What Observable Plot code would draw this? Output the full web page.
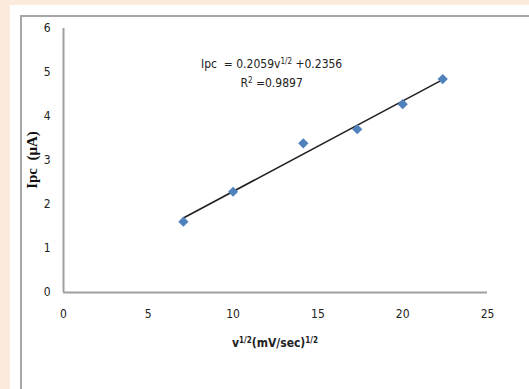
<!DOCTYPE html>
<html>
<head>
<meta charset="utf-8">
<script src="https://cdn.jsdelivr.net/npm/d3@7"></script>
<script src="https://cdn.jsdelivr.net/npm/@observablehq/plot@0.6"></script>
<style>
  html, body { margin: 0; padding: 0; }
  body { width: 529px; height: 389px; background: #fbebdc; position: relative; overflow: hidden; }
  #sheet { position: absolute; left: 10px; top: 5px; width: 600px; height: 500px; background: #ffffff; }
  #frame { position: absolute; left: 20px; top: 15px; width: 600px; height: 500px; background: #ffffff;
           border: 2px solid #a6a6a6; box-sizing: border-box; }
  #chart { position: absolute; left: 0; top: 0; }
  #chart svg { background: transparent; }
</style>
</head>
<body>
<div id="sheet"></div>
<div id="frame"></div>
<div id="chart"></div>
<script>
// Scan rate square root v^1/2 (mV/sec)^1/2
const sqrtScanRate = [7.07, 10.0, 14.14, 17.32, 20.0, 22.36];
// Cathodic peak current Ipc (µA)
const peakCurrent = [1.61, 2.29, 3.39, 3.71, 4.28, 4.85];
const xTicks = [0, 5, 10, 15, 20, 25];
const yTicks = [0, 1, 2, 3, 4, 5, 6];
const equationText = "Ipc  = 0.2059v";
const equationTail = " +0.2356";
const r2Text = " =0.9897";

const data = sqrtScanRate.map((x, i) => ({x, y: peakCurrent[i]}));

const tickFont = "'Liberation Sans Narrow', 'DejaVu Sans Condensed', sans-serif";

const plot = Plot.plot({
  width: 529,
  height: 389,
  marginLeft: 63,
  marginRight: 42,
  marginTop: 28,
  marginBottom: 97,
  style: {background: "transparent", fontFamily: tickFont, fontSize: "12px", color: "#222"},
  x: {domain: [0, 25], ticks: xTicks, tickFormat: d => String(d), tickSize: 0, tickPadding: 17, label: null},
  y: {domain: [0, 6], ticks: yTicks, tickFormat: d => String(d), tickSize: 0, tickPadding: 13, label: null},
  marks: [
    Plot.ruleX([0], {stroke: "#a0a0a0", strokeWidth: 2}),
    Plot.ruleY([0], {stroke: "#a0a0a0", strokeWidth: 2}),
    Plot.linearRegressionY(data, {x: "x", y: "y", ci: 0, stroke: "#222", strokeWidth: 1.6}),
    Plot.dot(data, {x: "x", y: "y", symbol: "diamond2", r: 4.6, fill: "#4f81bd", stroke: "none"})
  ]
});
document.getElementById("chart").appendChild(plot);

const sx = plot.scale("x"), sy = plot.scale("y");
const svg = d3.select(plot);
const annFont = "'Liberation Sans Narrow', 'DejaVu Sans Condensed', sans-serif";

// Equation
const eq = svg.append("text")
  .attr("x", sx.apply(12.3)).attr("y", sy.apply(5.1))
  .attr("text-anchor", "middle")
  .attr("font-family", annFont).attr("font-size", 12).attr("fill", "#222")
  .attr("xml:space", "preserve");
eq.append("tspan").text(equationText);
eq.append("tspan").attr("dy", -4).attr("font-size", 8).text("1/2");
eq.append("tspan").attr("dy", 4).text(equationTail);

const r2 = svg.append("text")
  .attr("x", sx.apply(12.3)).attr("y", sy.apply(4.65))
  .attr("text-anchor", "middle")
  .attr("font-family", annFont).attr("font-size", 12).attr("fill", "#222");
r2.append("tspan").text("R");
r2.append("tspan").attr("dy", -4).attr("font-size", 8).text("2");
r2.append("tspan").attr("dy", 4).text(r2Text);

// X axis label
const xl = svg.append("text")
  .attr("x", sx.apply(12.5)).attr("y", 347)
  .attr("text-anchor", "middle")
  .attr("font-family", annFont).attr("font-size", 12).attr("font-weight", "bold").attr("fill", "#222");
xl.append("tspan").text("v");
xl.append("tspan").attr("dy", -4).attr("font-size", 8).text("1/2");
xl.append("tspan").attr("dy", 4).text("(mV/sec)");
xl.append("tspan").attr("dy", -4).attr("font-size", 8).text("1/2");

// Y axis label
svg.append("text")
  .attr("transform", `translate(37,${sy.apply(3.0)}) rotate(-90)`)
  .attr("text-anchor", "middle")
  .attr("font-family", "'Liberation Serif', serif").attr("font-size", 15).attr("font-weight", "bold").attr("fill", "#111")
  .attr("xml:space", "preserve")
  .text("Ipc  (μA)");
</script>
</body>
</html>
